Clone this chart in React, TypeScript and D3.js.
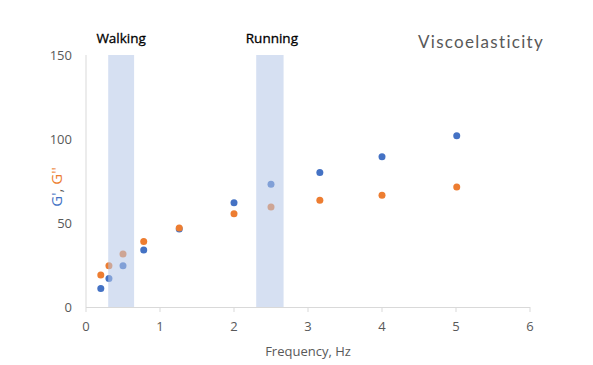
import React, { useRef, useEffect } from 'react';
import * as d3 from 'd3';

// frequency (Hz) for each measured point
const frequency = [0.2, 0.31, 0.5, 0.78, 1.26, 2.0, 2.5, 3.16, 4.0, 5.01];
// storage modulus G'
const gPrime = [11, 17, 24.5, 34, 46.5, 62, 73, 80, 89.5, 102];
// loss modulus G''
const gDoublePrime = [19, 24.5, 31.5, 39, 47, 55.5, 59.5, 63.5, 66.5, 71.5];
// activity bands on the frequency axis
const bandNames = ['Walking', 'Running'];
const bandStart = [0.3, 2.3];
const bandEnd = [0.65, 2.67];
const xTicks = [0, 1, 2, 3, 4, 5, 6];
const yTicks = [0, 50, 100, 150];

const App = () => {
  const svgRef = useRef<SVGSVGElement>(null);

  useEffect(() => {
    const width = 593;
    const height = 365;
    const left = 86;
    const right = 530;
    const top = 55;
    const bottom = 307;
    const gray = '#595959';
    const font = 'Open Sans, sans-serif';

    const svg = d3.select(svgRef.current);
    svg.selectAll('*').remove();
    svg.attr('width', width).attr('height', height);

    const x = d3.scaleLinear().domain([0, 6]).range([left, right]);
    const y = d3.scaleLinear().domain([0, 150]).range([bottom, top]);

    // axis lines
    svg.append('line')
      .attr('x1', left).attr('x2', left)
      .attr('y1', top).attr('y2', bottom)
      .attr('stroke', '#d9d9d9');
    svg.append('line')
      .attr('x1', left).attr('x2', right)
      .attr('y1', bottom + 0.5).attr('y2', bottom + 0.5)
      .attr('stroke', '#d9d9d9');

    // tick marks under the x axis
    svg.selectAll('.xtick')
      .data(xTicks)
      .enter().append('line')
      .attr('x1', d => x(d)).attr('x2', d => x(d))
      .attr('y1', bottom).attr('y2', bottom + 5)
      .attr('stroke', '#d9d9d9');

    svg.selectAll('.xlabel')
      .data(xTicks)
      .enter().append('text')
      .attr('x', d => x(d))
      .attr('y', bottom + 24)
      .attr('text-anchor', 'middle')
      .attr('fill', gray)
      .style('font-family', font)
      .style('font-size', '13px')
      .text(d => d);

    svg.selectAll('.ylabel')
      .data(yTicks)
      .enter().append('text')
      .attr('x', left - 14)
      .attr('y', d => y(d) + 5)
      .attr('text-anchor', 'end')
      .attr('fill', gray)
      .style('font-family', font)
      .style('font-size', '13px')
      .text(d => d);

    // G' points
    svg.selectAll('.gp')
      .data(frequency)
      .enter().append('circle')
      .attr('cx', d => x(d))
      .attr('cy', (d, i) => y(gPrime[i]))
      .attr('r', 3.5)
      .attr('fill', '#4472C4');

    // G'' points
    svg.selectAll('.gpp')
      .data(frequency)
      .enter().append('circle')
      .attr('cx', d => x(d))
      .attr('cy', (d, i) => y(gDoublePrime[i]))
      .attr('r', 3.5)
      .attr('fill', '#ED7D31');

    // bands are drawn over the points, half transparent
    svg.selectAll('.band')
      .data(bandNames)
      .enter().append('rect')
      .attr('x', (d, i) => x(bandStart[i]))
      .attr('width', (d, i) => x(bandEnd[i]) - x(bandStart[i]))
      .attr('y', y(150))
      .attr('height', y(0) - y(150))
      .attr('fill', '#B4C7E7')
      .attr('opacity', 0.55);

    svg.selectAll('.bandlabel')
      .data(bandNames)
      .enter().append('text')
      .attr('x', (d, i) => (x(bandStart[i]) + x(bandEnd[i])) / 2 + (i === 1 ? 2 : 0))
      .attr('y', 43)
      .attr('text-anchor', 'middle')
      .attr('fill', '#000')
      .attr('stroke', '#000')
      .attr('stroke-width', 0.3)
      .style('font-family', font)
      .style('font-size', '13.5px')
      .text(d => d);

    svg.append('text')
      .attr('x', 481)
      .attr('y', 48)
      .attr('text-anchor', 'middle')
      .attr('fill', gray)
      .style('font-family', 'Lato, sans-serif')
      .style('font-size', '17px')
      .style('letter-spacing', '1.3px')
      .text('Viscoelasticity');

    svg.append('text')
      .attr('x', 308)
      .attr('y', 356)
      .attr('text-anchor', 'middle')
      .attr('fill', gray)
      .style('font-family', font)
      .style('font-size', '13px')
      .text('Frequency, Hz');

    const yTitle = svg.append('text')
      .attr('transform', `translate(62,${(top + bottom) / 2 + 6}) rotate(-90)`)
      .attr('text-anchor', 'middle')
      .style('font-family', font)
      .style('font-size', '15px');
    yTitle.append('tspan').attr('fill', '#4472C4').text("G'");
    yTitle.append('tspan').attr('fill', gray).text(', ');
    yTitle.append('tspan').attr('fill', '#ED7D31').text("G''");
  }, []);

  return (
    <svg ref={svgRef} style={{ position: 'absolute', left: 0, top: 0 }}></svg>
  );
};

export default App;
